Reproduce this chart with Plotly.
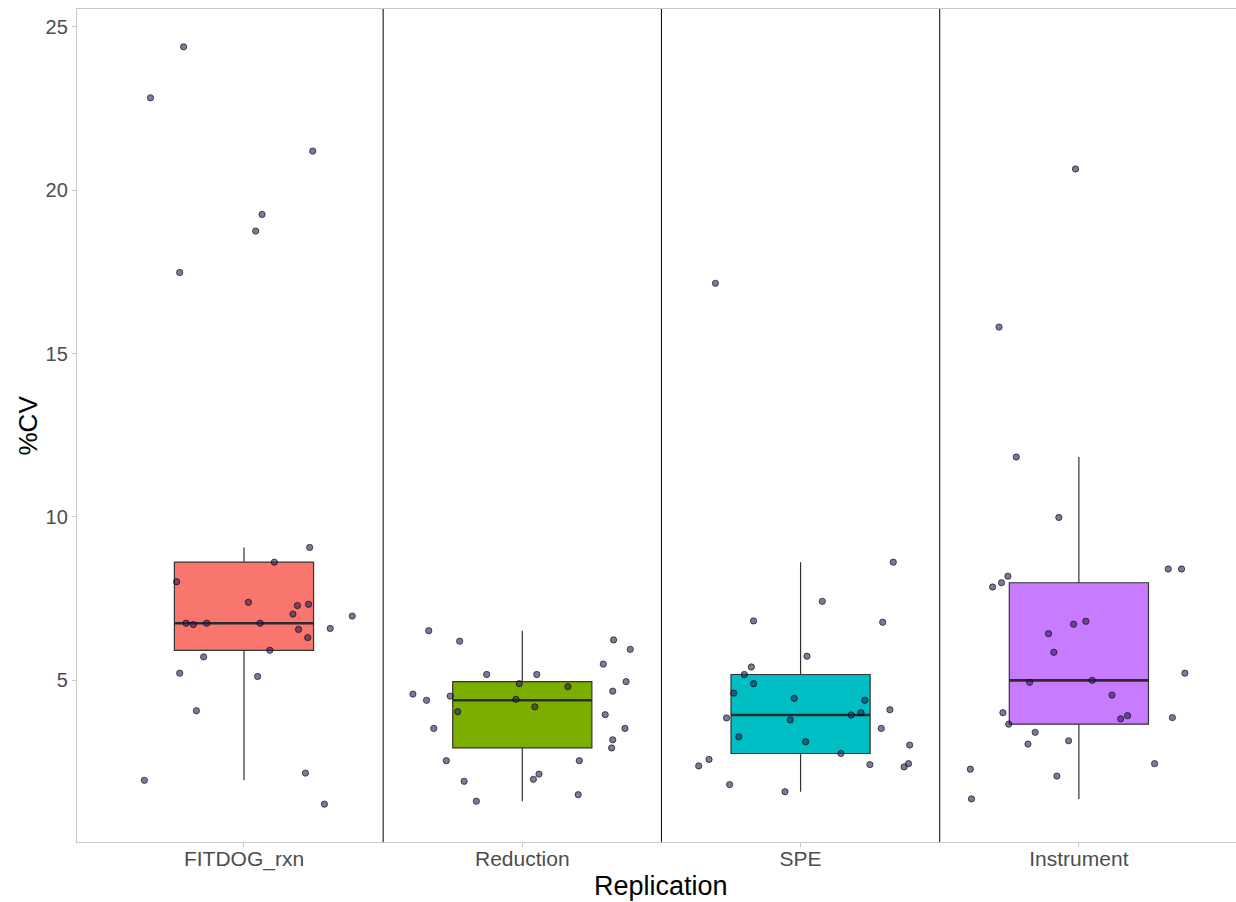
import numpy as np
import plotly.graph_objects as go

categories = ["FITDOG_rxn", "Reduction", "SPE", "Instrument"]
box_colors = ["#F8766D", "#7CAE00", "#00BFC4", "#C77CFF"]

fitdog_cv = [9.06, 8.61, 8.01, 7.38, 7.28, 7.32, 7.02, 6.96, 6.74, 6.70, 6.74, 6.74, 6.58, 6.55,
             6.30, 5.91, 5.71, 5.21, 5.11, 4.06, 1.93, 2.15, 1.20, 24.39, 22.83, 21.20, 19.26,
             18.75, 17.48]
fitdog_jit = [0.236, 0.109, -0.242, 0.016, 0.192, 0.232, 0.176, 0.389, -0.208, -0.182, -0.134,
              0.058, 0.310, 0.196, 0.229, 0.093, -0.145, -0.231, 0.049, -0.171, -0.358, 0.221,
              0.289, -0.217, -0.336, 0.247, 0.065, 0.042, -0.231]

reduction_cv = [6.51, 6.19, 6.23, 5.94, 5.49, 5.17, 5.17, 4.89, 4.80, 4.95, 4.57, 4.38, 4.51, 4.41,
                4.66, 4.18, 4.03, 3.94, 3.52, 3.52, 3.17, 2.92, 2.53, 2.53, 2.12, 1.96, 1.90,
                1.49, 1.29]
reduction_jit = [-0.336, -0.225, 0.328, 0.388, 0.291, -0.128, 0.052, -0.011, 0.164, 0.373, -0.393,
                 -0.344, -0.259, -0.023, 0.325, 0.045, -0.232, 0.298, -0.318, 0.369, 0.325, 0.321,
                 -0.273, 0.205, 0.060, 0.040, -0.209, 0.201, -0.165]

spe_cv = [8.61, 7.41, 6.81, 6.77, 5.73, 5.40, 5.17, 4.89, 4.60, 4.44, 4.38, 4.09, 4.00, 3.93, 3.84,
          3.78, 3.52, 3.26, 3.11, 3.01, 2.75, 2.57, 2.37, 2.41, 2.44, 2.34, 1.80, 1.58, 17.15]
spe_jit = [0.333, 0.078, -0.169, 0.295, 0.023, -0.177, -0.202, -0.169, -0.240, -0.023, 0.231, 0.321,
           0.217, 0.182, -0.266, -0.037, 0.290, -0.222, 0.018, 0.392, 0.145, -0.329, -0.366, 0.249,
           0.388, 0.372, -0.255, -0.056, -0.306]

instrument_cv = [11.83, 9.98, 8.40, 8.40, 8.18, 7.98, 7.85, 6.80, 6.71, 6.42, 5.85, 5.21, 4.99, 4.93,
                 4.54, 4.00, 3.91, 3.81, 3.85, 3.65, 3.40, 3.14, 3.04, 2.44, 2.27, 2.06, 1.36,
                 20.65, 15.81]
instrument_jit = [-0.225, -0.072, 0.321, 0.369, -0.255, -0.278, -0.310, 0.025, -0.019, -0.109, -0.090,
                  0.381, 0.048, -0.177, 0.119, -0.273, 0.175, 0.150, 0.336, -0.252, -0.157, -0.037,
                  -0.183, 0.272, -0.390, -0.079, -0.386, -0.012, -0.287]

group_values = [fitdog_cv, reduction_cv, spe_cv, instrument_cv]
group_jitter = [fitdog_jit, reduction_jit, spe_jit, instrument_jit]
separators = [1.5, 2.5, 3.5]

BOX_W = 0.5
fig = go.Figure()

for i, (name, vals, col) in enumerate(zip(categories, group_values, box_colors)):
    pos = i + 1
    v = np.array(vals)
    q1, med, q3 = np.quantile(v, [0.25, 0.5, 0.75], method="linear")
    iqr = q3 - q1
    lf = v[v >= q1 - 1.5 * iqr].min()
    uf = v[v <= q3 + 1.5 * iqr].max()
    fig.add_trace(go.Box(
        x=[pos], q1=[q1], median=[med], q3=[q3], lowerfence=[lf], upperfence=[uf],
        width=BOX_W, fillcolor=col, line=dict(color="#333333", width=1.2),
        whiskerwidth=0, boxpoints=False, showlegend=False, name=name,
    ))
    fig.add_trace(go.Scatter(
        x=[pos - BOX_W / 2, pos + BOX_W / 2], y=[med, med], mode="lines",
        line=dict(color="#2b2b2b", width=2.6), showlegend=False, hoverinfo="skip",
    ))

for i, (vals, jit) in enumerate(zip(group_values, group_jitter)):
    pos = i + 1
    fig.add_trace(go.Scatter(
        x=[pos + j for j in jit], y=vals, mode="markers",
        marker=dict(size=6.3, color="rgba(40,30,85,0.6)",
                    line=dict(color="rgba(0,0,0,0.75)", width=0.8)),
        showlegend=False,
    ))

for s in separators:
    fig.add_shape(type="line", x0=s, x1=s, y0=0, y1=1, xref="x", yref="paper",
                  line=dict(color="black", width=1))

all_vals = np.concatenate([np.array(g) for g in group_values])
vmin, vmax = all_vals.min(), all_vals.max()
pad = 0.05 * (vmax - vmin)

W, H = 1236, 902
ML, MR, MT, MB = 77, 0, 9, 60
px_per_cat = 278.3
x_lo = 0.4
x_hi = x_lo + (W - ML - MR) / px_per_cat

fig.update_layout(
    width=W, height=H,
    margin=dict(l=ML, r=MR, t=MT, b=MB, autoexpand=False),
    paper_bgcolor="white", plot_bgcolor="white",
    font=dict(family="Liberation Sans, Arial, sans-serif", color="#4D4D4D"),
    showlegend=False,
    xaxis=dict(
        range=[x_lo, x_hi], tickvals=[1, 2, 3, 4], ticktext=categories,
        showgrid=False, zeroline=False, automargin=False,
        showline=True, mirror=True, linecolor="#C8C8C8", linewidth=1.3,
        ticks="outside", ticklen=4, tickcolor="#C8C8C8", tickwidth=1,
        ticklabelstandoff=-6,
        tickfont=dict(size=21, color="#4D4D4D"),
    ),
    yaxis=dict(
        range=[vmin - pad, vmax + pad], tickvals=[5, 10, 15, 20, 25],
        showgrid=False, zeroline=False, automargin=False,
        showline=True, mirror=True, linecolor="#C8C8C8", linewidth=1.3,
        ticks="outside", ticklen=4, tickcolor="#C8C8C8", tickwidth=1,
        tickfont=dict(size=20, color="#4D4D4D"),
    ),
    annotations=[
        dict(text="Replication", xref="x", x=2.5, yref="paper", y=0, yanchor="middle",
             yshift=-44, showarrow=False, font=dict(size=27, color="black")),
        dict(text="%CV", xref="paper", x=0, xanchor="center", xshift=-50, yref="paper",
             y=0.5, textangle=-90, showarrow=False, font=dict(size=26, color="black")),
    ],
)

fig.write_html(
    "out.html",
    config={"displayModeBar": False},
    post_script="document.body.style.margin='0';document.body.style.overflow='hidden';",
)
